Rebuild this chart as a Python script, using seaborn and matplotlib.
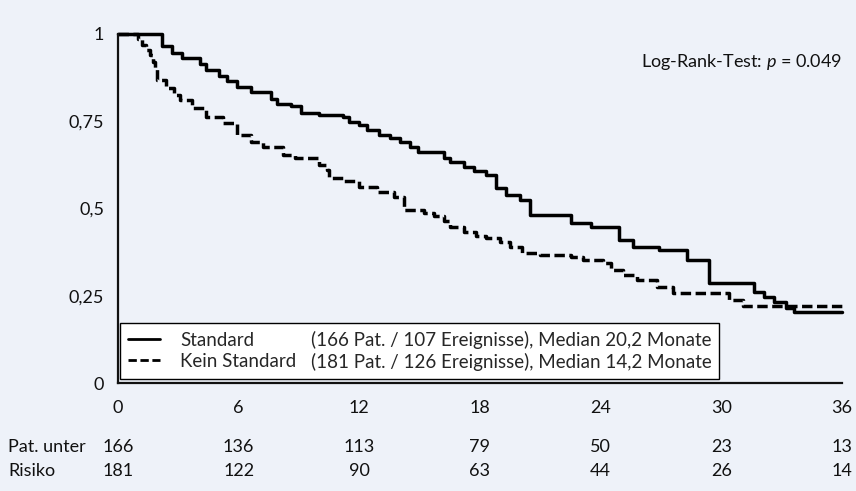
import matplotlib
matplotlib.use("Agg")
import matplotlib.pyplot as plt
import seaborn as sns
from matplotlib.lines import Line2D

# Kaplan-Meier steps (time in months, survival from that time on)
std_time = [0, 2.2, 2.7, 3.2, 4.1, 4.4, 5.0, 5.4, 5.9, 6.6, 7.6, 7.9, 8.6, 9.1, 10.0,
            11.2, 11.5, 12.0, 12.4, 13.0, 13.5, 14.0, 14.5, 14.9, 16.2, 16.5, 17.2,
            17.7, 18.3, 18.8, 19.3, 20.0, 20.5, 22.5, 23.5, 24.9, 25.6, 26.9, 28.3,
            29.4, 31.6, 32.1, 32.6, 33.2, 33.6, 36.0]
std_surv = [1.0, 0.965, 0.946, 0.93, 0.915, 0.897, 0.88, 0.866, 0.848, 0.834, 0.815,
            0.80, 0.794, 0.774, 0.768, 0.762, 0.748, 0.738, 0.725, 0.712, 0.702, 0.69,
            0.675, 0.662, 0.645, 0.633, 0.619, 0.608, 0.596, 0.559, 0.539, 0.524,
            0.481, 0.458, 0.447, 0.41, 0.39, 0.381, 0.352, 0.287, 0.262, 0.246,
            0.232, 0.215, 0.203, 0.203]

kein_time = [0, 1.0, 1.2, 1.4, 1.6, 1.75, 1.85, 1.95, 2.4, 2.8, 3.1, 3.7, 4.4, 5.2,
             5.9, 6.6, 7.2, 8.2, 8.8, 10.0, 10.4, 10.5, 11.2, 12.0, 12.9, 13.7, 14.2,
             15.2, 15.7, 16.2, 16.5, 17.2, 17.8, 18.3, 19.0, 19.5, 20.1, 21.0, 22.5,
             23.1, 24.1, 24.5, 25.1, 25.8, 26.8, 27.6, 30.4, 31.1, 36.0]
kein_surv = [1.0, 0.985, 0.968, 0.955, 0.94, 0.92, 0.90, 0.868, 0.845, 0.825, 0.81,
             0.788, 0.762, 0.745, 0.71, 0.69, 0.676, 0.653, 0.645, 0.625, 0.61, 0.587,
             0.578, 0.562, 0.547, 0.533, 0.496, 0.488, 0.478, 0.465, 0.447, 0.433,
             0.42, 0.415, 0.405, 0.39, 0.372, 0.367, 0.361, 0.352, 0.344, 0.324,
             0.309, 0.295, 0.275, 0.258, 0.238, 0.222, 0.218]

x_ticks = [0, 6, 12, 18, 24, 30, 36]
y_ticks = [0, 0.25, 0.5, 0.75, 1]
y_labels = ["0", "0,25", "0,5", "0,75", "1"]
at_risk_std = [166, 136, 113, 79, 50, 23, 13]
at_risk_kein = [181, 122, 90, 63, 44, 26, 14]

legend_names = ["Standard", "Kein Standard"]
legend_info = ["(166 Pat. / 107 Ereignisse), Median 20,2 Monate",
               "(181 Pat. / 126 Ereignisse), Median 14,2 Monate"]

bg = "#eef2f9"
ink = "#111111"
dash = (0, (3.0, 1.3))
fs = 13

sns.set_style("white")
plt.rcParams['font.family'] = ['Lato', 'DejaVu Sans']
plt.rcParams['mathtext.fontset'] = 'custom'
plt.rcParams['mathtext.it'] = 'Lato:italic'
plt.rcParams['mathtext.rm'] = 'Lato'

fig = plt.figure(figsize=(8.56, 4.91), dpi=100, facecolor=bg)
ax = fig.add_axes([118 / 856, 1 - 383 / 491, 724 / 856, 349 / 491])
ax.set_facecolor(bg)

sns.lineplot(x=std_time, y=std_surv, ax=ax, color="black", lw=2.5,
             drawstyle="steps-post", estimator=None, sort=False, clip_on=False)
sns.lineplot(x=kein_time, y=kein_surv, ax=ax, color="black", lw=2.5,
             drawstyle="steps-post", estimator=None, sort=False, clip_on=False,
             linestyle=dash)

ax.set_xlim(0, 36)
ax.set_ylim(0, 1)
ax.set_xticks(x_ticks)
ax.set_xticklabels([str(t) for t in x_ticks])
ax.set_yticks(y_ticks)
ax.set_yticklabels(y_labels)
for s in ["top", "right"]:
    ax.spines[s].set_visible(False)
for s in ["left", "bottom"]:
    ax.spines[s].set_linewidth(1.6)
    ax.spines[s].set_color(ink)
ax.tick_params(axis="both", direction="out", width=1.6, color=ink,
               labelsize=fs, labelcolor=ink)
ax.tick_params(axis="x", length=7, pad=5)
ax.tick_params(axis="y", length=6, pad=4)
ax.set_xlabel("")
ax.set_ylabel("")

# legend: two columns, second column without handles
blank = Line2D([], [], color="none")
handles = [Line2D([], [], color="black", lw=2),
           Line2D([], [], color="black", lw=2, linestyle=dash),
           blank, blank]
leg = ax.legend(handles, legend_names + legend_info, ncol=2, loc="lower left",
                bbox_to_anchor=(0.003, 0.012), borderaxespad=0, fancybox=False,
                framealpha=1, edgecolor="black", fontsize=13.5, handlelength=1.7,
                handletextpad=1.07, columnspacing=-2.0, labelspacing=0.22,
                borderpad=0.42)
leg.get_frame().set_linewidth(1.0)
leg.get_frame().set_facecolor("white")

ax.text(1.0, 0.92, "Log-Rank-Test: $\\mathit{p}$ = 0.049", transform=ax.transAxes,
        ha="right", va="center", fontsize=fs, color=ink)

# numbers at risk
tr = ax.get_xaxis_transform()
for t, a, b in zip(x_ticks, at_risk_std, at_risk_kein):
    ax.text(t, -0.183, str(a), transform=tr, ha="center", va="center",
            fontsize=fs, color=ink, clip_on=False)
    ax.text(t, -0.252, str(b), transform=tr, ha="center", va="center",
            fontsize=fs, color=ink, clip_on=False)
fig.text(8 / 856, 1 - 447 / 491, "Pat. unter", ha="left", va="center",
         fontsize=fs, color=ink)
fig.text(8 / 856, 1 - 471 / 491, "Risiko", ha="left", va="center",
         fontsize=fs, color=ink)

fig.savefig("out.png", dpi=100, facecolor=bg)
